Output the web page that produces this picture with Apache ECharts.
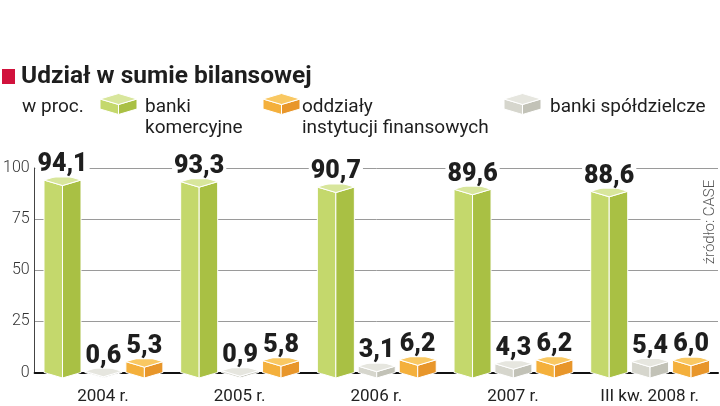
<!DOCTYPE html>
<html>
<head>
<meta charset="utf-8">
<script src="https://cdn.jsdelivr.net/npm/echarts@6/dist/echarts.min.js"></script>
<style>
  html, body { margin: 0; padding: 0; background: #fff; }
  #chart { width: 720px; height: 406px; }
</style>
</head>
<body>
<div id="chart"></div>
<script>
// dane
var categories = ['2004 r.', '2005 r.', '2006 r.', '2007 r.', 'III kw. 2008 r.'];
var komercyjne = [94.1, 93.3, 90.7, 89.6, 88.6];
var spoldzielcze = [0.6, 0.9, 3.1, 4.3, 5.4];
var oddzialy = [5.3, 5.8, 6.2, 6.2, 6.0];
var yTicks = [0, 25, 50, 75, 100];

var FONT = 'Roboto, "Noto Sans", sans-serif';

// kolory scian: gora, lewa, prawa
var green = ['#d8e69c', '#c4d86c', '#a9c044'];
var gray = ['#e6e6df', '#d6d6cd', '#c2c2b7'];
var orange = ['#f9c862', '#f4b03c', '#e8962a'];

function toPL(v) {
  return v.toFixed(1).replace('.', ',');
}

// prostopadloscian 3D rysowany z osi
function prism(colors, offset) {
  return function (params, api) {
    var idx = api.value(0), val = api.value(1);
    var base = api.coord([idx, 0]);
    var top = api.coord([idx, val]);
    var band = api.size([1, 0])[0];
    var cx = base[0] + band * offset;
    var w = 18.5, d = 5.5;
    var y0 = base[1], y1 = top[1];
    var edge = { stroke: '#fff', lineWidth: 1 };
    return {
      type: 'group',
      children: [
        { type: 'polygon', shape: { points: [[cx - w, y1], [cx, y1 + d], [cx, y0 + d], [cx - w, y0]] },
          style: Object.assign({ fill: colors[1] }, edge) },
        { type: 'polygon', shape: { points: [[cx, y1 + d], [cx + w, y1], [cx + w, y0], [cx, y0 + d]] },
          style: Object.assign({ fill: colors[2] }, edge) },
        { type: 'polygon', shape: { points: [[cx - w, y1], [cx, y1 - d], [cx + w, y1], [cx, y1 + d]] },
          style: Object.assign({ fill: colors[0] }, edge) },
        { type: 'text', z2: 10,
          style: { text: toPL(val), x: cx, y: y1 - d + 3, align: 'center', verticalAlign: 'bottom',
            font: '900 25px ' + FONT, fill: '#1e1e1e', backgroundColor: '#fff', padding: [0, 2, 0, 2] } }
      ]
    };
  };
}

function cube(x, y, colors) {
  var w = 18.5, d = 5.5, h = 10;
  var cx = x + w;
  return {
    type: 'group',
    children: [
      { type: 'polygon', shape: { points: [[x, y], [cx, y + d], [cx, y + d + h], [x, y + h]] }, style: { fill: colors[1], stroke: '#fff', lineWidth: 1 } },
      { type: 'polygon', shape: { points: [[cx, y + d], [x + 2 * w, y], [x + 2 * w, y + h], [cx, y + d + h]] }, style: { fill: colors[2], stroke: '#fff', lineWidth: 1 } },
      { type: 'polygon', shape: { points: [[x, y], [cx, y - d], [x + 2 * w, y], [cx, y + d]] }, style: { fill: colors[0], stroke: '#fff', lineWidth: 1 } }
    ]
  };
}

function txt(x, y, text, font, extra) {
  return { type: 'text', x: x, y: y,
    style: Object.assign({ text: text, font: font, fill: '#1e1e1e', verticalAlign: 'middle' }, extra || {}) };
}

function seriesData(arr) {
  return arr.map(function (v, i) { return [i, v]; });
}

var chart = echarts.init(document.getElementById('chart'));
chart.setOption({
  animation: false,
  grid: { left: 33, right: 2, top: 168, bottom: 33.5 },
  xAxis: {
    type: 'category',
    data: categories,
    axisTick: { show: false },
    axisLine: { lineStyle: { color: '#111', width: 2 } },
    axisLabel: { fontSize: 17, color: '#222', margin: 16, fontFamily: FONT }
  },
  yAxis: {
    type: 'value',
    min: yTicks[0],
    max: yTicks[yTicks.length - 1],
    interval: yTicks[1] - yTicks[0],
    axisLine: { show: true, lineStyle: { color: '#444', width: 1 } },
    axisTick: { show: false },
    splitLine: { lineStyle: { color: '#9a9a9a', width: 1 } },
    axisLabel: { fontSize: 16, color: '#333', margin: 5, fontFamily: FONT, fontWeight: 300 }
  },
  series: [
    { name: 'banki komercyjne', type: 'custom', renderItem: prism(green, -0.296), data: seriesData(komercyjne) },
    { name: 'banki spółdzielcze', type: 'custom', renderItem: prism(gray, 0.003), data: seriesData(spoldzielcze) },
    { name: 'oddziały instytucji finansowych', type: 'custom', renderItem: prism(orange, 0.303), data: seriesData(oddzialy) }
  ],
  graphic: [
    { type: 'rect', shape: { x: 2, y: 69, width: 13, height: 15 }, style: { fill: '#d1123c' } },
    txt(21, 77, 'Udział w sumie bilansowej', 'bold 24.5px ' + FONT),
    txt(22, 107, 'w proc.', '19px ' + FONT),
    cube(100, 99, green),
    txt(145, 107, 'banki', '19px ' + FONT),
    txt(145, 128, 'komercyjne', '19px ' + FONT),
    cube(263, 99, orange),
    txt(302, 107, 'oddziały', '19px ' + FONT),
    txt(302, 128, 'instytucji finansowych', '19px ' + FONT),
    cube(504, 99, gray),
    txt(550, 107, 'banki spółdzielcze', '19px ' + FONT),
    { type: 'text', x: 710, y: 222, rotation: Math.PI / 2, z: 10,
      style: { text: 'źródło: CASE', font: '300 15px ' + FONT, fill: '#555', align: 'center', verticalAlign: 'middle',
        backgroundColor: '#fff', padding: [2, 4, 2, 4] } }
  ]
});
</script>
</body>
</html>
